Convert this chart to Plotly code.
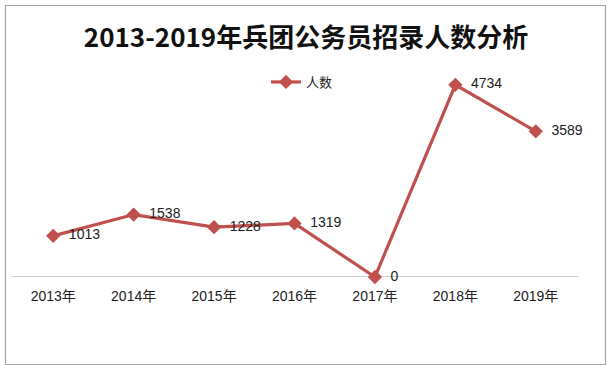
import plotly.graph_objects as go

years = ["2013年", "2014年", "2015年", "2016年", "2017年", "2018年", "2019年"]
counts = [1013, 1538, 1228, 1319, 0, 4734, 3589]
series_name = "人数"
title = "2013-2019年兵团公务员招录人数分析"

W, H = 613, 373
plot_left, plot_right, plot_top, plot_bottom = 13, 576, 74, 277
L, T = plot_left, plot_top
R, B = W - plot_right, H - plot_bottom
pw, ph = W - L - R, H - T - B

def px_to_paper_x(px):
    return (px - L) / pw

def px_to_paper_y(py):
    return (H - B - py) / ph

font_fam = "Liberation Sans, Noto Sans CJK SC, sans-serif"
pad = "\u00a0\u00a0"

fig = go.Figure()
fig.add_trace(go.Scatter(
    x=years, y=counts, name=series_name,
    mode="lines+markers+text",
    line=dict(color="#C0504D", width=3.2),
    marker=dict(symbol="diamond", size=11, color="#C0504D"),
    text=[pad + str(v) for v in counts],
    textposition="middle right",
    textfont=dict(size=14, color="#222222", family=font_fam),
    cliponaxis=False,
))

fig.update_layout(
    width=W, height=H,
    margin=dict(l=L, r=R, t=T, b=B),
    paper_bgcolor="white", plot_bgcolor="white",
    showlegend=True,
    legend=dict(orientation="h", x=px_to_paper_x(266), y=px_to_paper_y(67),
                xanchor="left", yanchor="top",
                font=dict(size=13, color="#222222", family="Noto Sans CJK SC"),
                bgcolor="rgba(0,0,0,0)", itemwidth=30, tracegroupgap=0),
    title=dict(text="<b>" + title + "</b>", x=306 / W, xref="container", xanchor="center",
               y=1 - 38 / H, yref="container", yanchor="middle",
               font=dict(size=26, color="#111111", family="Noto Sans CJK SC")),
    xaxis=dict(type="category", range=[-0.5, 6.5], showgrid=False, zeroline=False,
               showline=False, ticks="", ticklabelstandoff=9,
               tickfont=dict(size=14, color="#222222", family=font_fam)),
    yaxis=dict(range=[0, 5000], visible=False, showgrid=False, zeroline=False),
    shapes=[
        dict(type="rect", xref="paper", yref="paper",
             x0=px_to_paper_x(5.5), x1=px_to_paper_x(605.5),
             y0=px_to_paper_y(364.5), y1=px_to_paper_y(5.5),
             line=dict(color="#A6A6A6", width=1.2), layer="below"),
        dict(type="line", xref="paper", yref="y",
             x0=px_to_paper_x(12), x1=px_to_paper_x(578), y0=0, y1=0,
             line=dict(color="#9A9A9A", width=1), layer="below"),
    ],
)

fig.write_html("out.html", config={"displayModeBar": False},
               post_script="document.body.style.margin='0';document.body.style.padding='0';")
